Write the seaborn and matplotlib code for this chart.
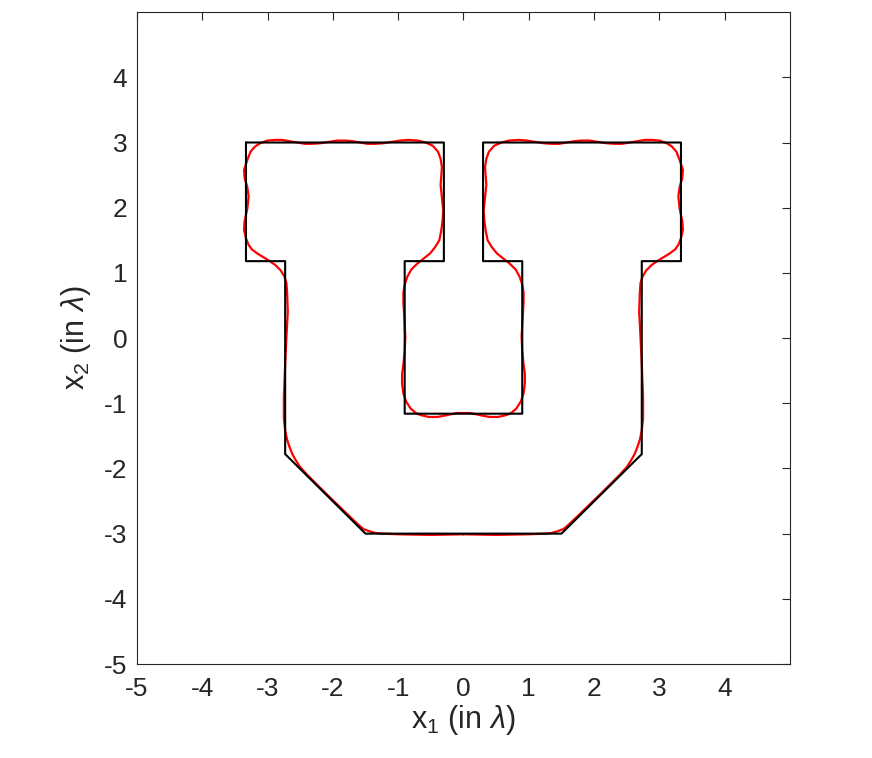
import numpy as np
import pandas as pd
import seaborn as sns
import matplotlib.pyplot as plt

# black outline of the "U" (closed polygon, in wavelengths)
shape_x = [-3.33, -0.30, -0.30, -0.90, -0.90, 0.90, 0.90, 0.30, 0.30, 3.33,
           3.33, 2.73, 2.73, 1.50, -1.50, -2.73, -2.73, -3.33, -3.33]
shape_y = [3.00, 3.00, 1.18, 1.18, -1.16, -1.16, 1.18, 1.18, 3.00, 3.00,
           1.18, 1.18, -1.78, -3.00, -3.00, -1.78, 1.18, 1.18, 3.00]

# red reconstructed boundary, left half (bottom centre -> notch bottom centre)
recon_left_x = [0.00, -0.50, -1.00, -1.25, -1.35, -1.45, -1.53, -1.58, -1.75, -2.11,
                -2.40, -2.50, -2.57, -2.62, -2.66, -2.70, -2.73, -2.75, -2.75, -2.73,
                -2.71, -2.69, -2.70, -2.71, -2.74, -2.80, -2.88, -2.98, -3.08, -3.16,
                -3.24, -3.29, -3.33, -3.36, -3.35, -3.31, -3.29, -3.31, -3.35, -3.36,
                -3.31, -3.26, -3.19, -3.11, -3.00, -2.88, -2.78, -2.66, -2.55, -2.43,
                -2.32, -2.18, -2.05, -1.93, -1.81, -1.70, -1.58, -1.47, -1.35, -1.22,
                -1.10, -0.97, -0.84, -0.70, -0.58, -0.47, -0.39, -0.35, -0.33, -0.34,
                -0.35, -0.33, -0.31, -0.32, -0.34, -0.37, -0.43, -0.51, -0.61, -0.71,
                -0.80, -0.86, -0.90, -0.92, -0.92, -0.91, -0.90, -0.89, -0.90, -0.92,
                -0.94, -0.94, -0.92, -0.88, -0.81, -0.73, -0.66, -0.53, -0.40, -0.29,
                -0.20, -0.10, 0.00]
recon_left_y = [-3.01, -3.02, -3.01, -3.00, -2.99, -2.96, -2.93, -2.89, -2.73, -2.38,
                -2.09, -1.98, -1.87, -1.78, -1.68, -1.56, -1.42, -1.23, -0.90, -0.40,
                0.03, 0.40, 0.69, 0.84, 0.94, 1.04, 1.12, 1.19, 1.25, 1.30,
                1.36, 1.43, 1.53, 1.66, 1.80, 1.98, 2.17, 2.32, 2.45, 2.58,
                2.73, 2.86, 2.94, 2.99, 3.03, 3.04, 3.04, 3.02, 3.00, 2.98,
                2.98, 2.99, 3.01, 3.03, 3.03, 3.02, 3.00, 2.98, 2.98, 2.99,
                3.01, 3.03, 3.04, 3.03, 3.00, 2.95, 2.86, 2.75, 2.62, 2.48,
                2.35, 2.15, 1.96, 1.80, 1.65, 1.50, 1.40, 1.30, 1.22, 1.14,
                1.05, 0.94, 0.82, 0.70, 0.55, 0.40, 0.20, 0.02, -0.20, -0.40,
                -0.55, -0.70, -0.85, -0.97, -1.08, -1.15, -1.18, -1.21, -1.21, -1.19,
                -1.17, -1.15, -1.15]

# right half (notch bottom centre -> bottom centre)
recon_right_x = [0.00, 0.10, 0.20,
                 0.29, 0.40, 0.53, 0.66, 0.73, 0.81, 0.88, 0.92, 0.94, 0.94,
                 0.92, 0.90, 0.89, 0.90, 0.91, 0.92, 0.92, 0.90, 0.86, 0.80,
                 0.71, 0.61, 0.51, 0.43, 0.37, 0.34, 0.32, 0.31, 0.33, 0.35,
                 0.34, 0.33, 0.35, 0.39, 0.47, 0.58, 0.70, 0.84, 0.97, 1.10,
                 1.22, 1.35, 1.47, 1.58, 1.70, 1.81, 1.93, 2.05, 2.18, 2.32,
                 2.43, 2.55, 2.66, 2.78, 2.88, 3.00, 3.11, 3.19, 3.26, 3.31,
                 3.36, 3.35, 3.31, 3.29, 3.31, 3.35, 3.36, 3.33, 3.29, 3.24,
                 3.16, 3.08, 2.98, 2.88, 2.80, 2.74, 2.71, 2.70, 2.69, 2.71,
                 2.73, 2.75, 2.75, 2.73, 2.70, 2.66, 2.62, 2.57, 2.50, 2.40,
                 2.11, 1.75, 1.58, 1.53, 1.45, 1.35, 1.25, 1.00, 0.50, 0.00]
recon_right_y = [-1.15, -1.15, -1.17,
                 -1.19, -1.21, -1.21, -1.18, -1.15, -1.08, -0.97, -0.85, -0.70, -0.55,
                 -0.40, -0.20, 0.02, 0.20, 0.40, 0.55, 0.70, 0.82, 0.94, 1.05,
                 1.14, 1.22, 1.30, 1.40, 1.50, 1.65, 1.80, 1.96, 2.15, 2.35,
                 2.48, 2.62, 2.75, 2.86, 2.95, 3.00, 3.03, 3.04, 3.03, 3.01,
                 2.99, 2.98, 2.98, 3.00, 3.02, 3.03, 3.03, 3.01, 2.99, 2.98,
                 2.98, 3.00, 3.02, 3.04, 3.04, 3.03, 2.99, 2.94, 2.86, 2.73,
                 2.58, 2.45, 2.32, 2.17, 1.98, 1.80, 1.66, 1.53, 1.43, 1.36,
                 1.30, 1.25, 1.19, 1.12, 1.04, 0.94, 0.84, 0.69, 0.40, 0.03,
                 -0.40, -0.90, -1.23, -1.42, -1.56, -1.68, -1.78, -1.87, -1.98, -2.09,
                 -2.38, -2.73, -2.89, -2.93, -2.96, -2.99, -3.00, -3.01, -3.02, -3.01]

ticks = [-5, -4, -3, -2, -1, 0, 1, 2, 3, 4]

sns.set_style("white")
plt.rcParams['font.family'] = ['Liberation Sans', 'DejaVu Sans']
plt.rcParams['mathtext.fontset'] = 'custom'
plt.rcParams['mathtext.it'] = 'Liberation Sans:italic'
plt.rcParams['mathtext.rm'] = 'Liberation Sans'

recon = pd.DataFrame({'x': recon_left_x + recon_right_x,
                      'y': recon_left_y + recon_right_y})
shape = pd.DataFrame({'x': shape_x, 'y': shape_y})

fig = plt.figure(figsize=(8.72, 7.58), dpi=100)
ax = fig.add_axes([0.157, 0.124, 0.749, 0.860])

sns.lineplot(data=recon, x='x', y='y', sort=False, estimator=None,
             color='#ff0000', linewidth=1.6, ax=ax,
             solid_joinstyle='round', solid_capstyle='round')
sns.lineplot(data=shape, x='x', y='y', sort=False, estimator=None,
             color='black', linewidth=1.5, ax=ax)

ax.set_xlim(-5, 5)
ax.set_ylim(-5, 5)
ax.set_xticks(ticks)
ax.set_yticks(ticks)
ax.set_xticklabels([str(t) for t in ticks])
ax.set_yticklabels([str(t) for t in ticks])
ax.tick_params(direction='in', length=6, width=0.8, color='#262626',
               top=True, right=True, labelsize=19, labelcolor='#262626')
ax.tick_params(axis='x', pad=9)
ax.tick_params(axis='y', pad=7)
for side in ax.spines.values():
    side.set_color('#262626')
    side.set_linewidth(0.8)
    side.set_visible(True)

ax.set_xlabel(r'x$_1$ (in $\lambda$)', fontsize=22, color='#262626', labelpad=2)
ax.set_ylabel(r'x$_2$ (in $\lambda$)', fontsize=22, color='#262626', labelpad=8)

fig.savefig('out.png', dpi=100, facecolor='white')
